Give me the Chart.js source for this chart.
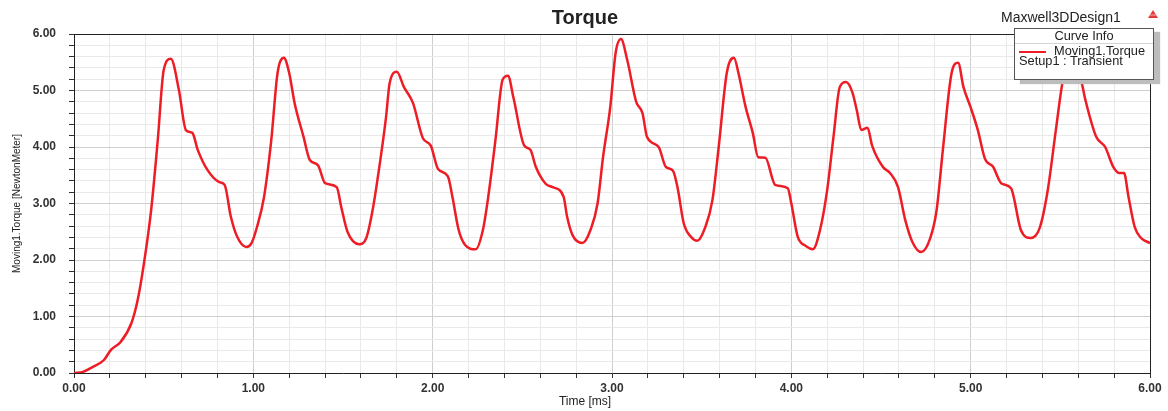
<!DOCTYPE html>
<html>
<head>
<meta charset="utf-8">
<title>Torque</title>
<script src="https://cdn.jsdelivr.net/npm/chart.js@4.4.1/dist/chart.umd.min.js"></script>
<style>
  body { margin: 0; background: #fff; }
  #wrap { position: relative; width: 1168px; height: 411px; font-family: "Liberation Sans", Arial, sans-serif; color: #222; }
  #chart { position: absolute; left: 0; top: 0; }
  .lbl { position: absolute; white-space: nowrap; line-height: 1; }
  #title { left: 585px; top: 7px; transform: translateX(-50%); font-size: 20px; font-weight: bold; }
  #design { left: 1001px; top: 10px; font-size: 14px; }
  #xtitle { left: 585px; top: 395px; transform: translateX(-50%); font-size: 12px; }
  #icon { position: absolute; left: 1147px; top: 9px; }
  #legend { position: absolute; left: 1014px; top: 28px; width: 140px; height: 52px; box-sizing: border-box;
            border: 1px solid #555; background: #fff; box-shadow: 6px 4px 1px #bdbdbd; font-size: 12.8px; }
  #legend .head { position: absolute; left: 0; right: 0; top: 1px; text-align: center; line-height: 1; }
  #legend .sep { position: absolute; left: 0; right: 0; top: 14px; height: 1px; background: #d4d4d4; }
  #legend .swatch { position: absolute; left: 4px; top: 22px; width: 27px; height: 2px; background: #ee1c25; }
</style>
</head>
<body>
<div id="wrap">
  <canvas id="chart" width="1168" height="411"></canvas>
  <div class="lbl" id="title">Torque</div>
  <div class="lbl" id="design">Maxwell3DDesign1</div>
  <svg id="icon" width="12" height="10" viewBox="0 0 12 10">
    <polygon points="6,1 11,9 1,9" fill="#e23a3a"/>
    <line x1="3" y1="6" x2="9" y2="6" stroke="#f4b0b0" stroke-width="1"/>
  </svg>
  <div id="legend">
    <div class="head">Curve Info</div>
    <div class="sep"></div>
    <div class="swatch"></div>
    <div class="lbl" style="left:39px;top:16px;">Moving1.Torque</div>
    <div class="lbl" style="left:4px;top:26px;">Setup1 : Transient</div>
  </div>
  <div class="lbl" id="xtitle">Time [ms]</div>
</div>
<script>
// Time [ms]
const timeMs = [
  0.00, 0.05, 0.10, 0.167, 0.206, 0.26, 0.32, 0.355, 0.39, 0.43, 0.467, 0.50, 0.54, 0.585, 0.624,
  0.66, 0.69, 0.745, 0.81, 0.84, 0.875, 0.91, 0.96, 0.99, 1.02, 1.06, 1.10, 1.135, 1.17, 1.20,
  1.23, 1.28, 1.315, 1.36, 1.40, 1.465, 1.49, 1.525, 1.59, 1.63, 1.665, 1.70, 1.74, 1.76, 1.80,
  1.84, 1.89, 1.945, 1.99, 2.03, 2.085, 2.11, 2.145, 2.18, 2.24, 2.28, 2.31, 2.35, 2.39, 2.42,
  2.45, 2.51, 2.545, 2.575, 2.63, 2.67, 2.73, 2.75, 2.78, 2.835, 2.88, 2.92, 2.95, 2.99, 3.02,
  3.05, 3.085, 3.135, 3.17, 3.195, 3.26, 3.30, 3.34, 3.365, 3.40, 3.44, 3.475, 3.52, 3.56, 3.595,
  3.64, 3.68, 3.705, 3.745, 3.785, 3.815, 3.855, 3.91, 3.98, 4.00, 4.035, 4.08, 4.12, 4.16, 4.20,
  4.235, 4.27, 4.305, 4.34, 4.365, 4.39, 4.425, 4.45, 4.51, 4.55, 4.595, 4.635, 4.675, 4.725, 4.775,
  4.81, 4.845, 4.895, 4.93, 4.96, 5.00, 5.04, 5.08, 5.125, 5.17, 5.225, 5.28, 5.335, 5.385, 5.43,
  5.475, 5.515, 5.56, 5.615, 5.64, 5.70, 5.75, 5.795, 5.83, 5.855, 5.88, 5.915, 5.95, 6.00
];
// Moving1.Torque [NewtonMeter]
const torqueNm = [
  0.00, 0.02, 0.10, 0.23, 0.41, 0.55, 0.88, 1.29, 1.94, 2.88, 4.12, 5.36, 5.56, 5.01, 4.30,
  4.25, 3.95, 3.59, 3.38, 3.33, 2.76, 2.41, 2.23, 2.30, 2.58, 3.12, 4.12, 5.31, 5.58, 5.31,
  4.78, 4.18, 3.77, 3.68, 3.36, 3.29, 2.94, 2.50, 2.28, 2.39, 2.88, 3.59, 4.53, 5.13, 5.33,
  5.06, 4.78, 4.16, 4.02, 3.61, 3.48, 3.12, 2.53, 2.27, 2.19, 2.53, 3.12, 4.12, 5.19, 5.26,
  4.88, 4.03, 3.95, 3.65, 3.35, 3.29, 3.12, 2.76, 2.44, 2.30, 2.53, 3.01, 3.82, 4.70, 5.66,
  5.91, 5.54, 4.80, 4.60, 4.18, 4.00, 3.65, 3.58, 3.29, 2.65, 2.41, 2.34, 2.58, 3.06, 4.00,
  5.31, 5.58, 5.31, 4.71, 4.25, 3.82, 3.81, 3.33, 3.27, 3.00, 2.42, 2.25, 2.19, 2.53, 3.24,
  4.18, 5.06, 5.15, 4.97, 4.65, 4.30, 4.34, 4.03, 3.65, 3.54, 3.29, 2.71, 2.32, 2.14, 2.39,
  2.88, 3.95, 5.33, 5.49, 5.06, 4.70, 4.30, 3.79, 3.65, 3.36, 3.27, 2.53, 2.39, 2.57, 3.24,
  4.30, 5.19, 5.55, 5.19, 4.83, 4.18, 4.00, 3.65, 3.54, 3.54, 3.12, 2.58, 2.39, 2.30
];
// labelled (major) ticks on both axes
const xMajorTicks = [0, 1, 2, 3, 4, 5, 6];
const yMajorTicks = [0, 1, 2, 3, 4, 5, 6];

const isMajor = (v, list) => Math.abs(v - Math.round(v)) < 1e-6 && list.includes(Math.round(v));
const tickFont = { family: 'Liberation Sans', size: 12, weight: 'bold' };

// black frame on top and right of the plot area
const frame = {
  id: 'frame',
  afterDatasetsDraw(chart) {
    const a = chart.chartArea, c = chart.ctx;
    c.save();
    c.strokeStyle = '#222';
    c.lineWidth = 1;
    c.beginPath();
    c.moveTo(a.left, a.top + 0.5);
    c.lineTo(a.right + 0.5, a.top + 0.5);
    c.lineTo(a.right + 0.5, a.bottom);
    c.stroke();
    c.restore();
  }
};

new Chart(document.getElementById('chart'), {
  type: 'line',
  data: {
    datasets: [{
      label: 'Moving1.Torque',
      data: timeMs.map((t, i) => ({ x: t, y: torqueNm[i] })),
      borderColor: '#ee1c25',
      borderWidth: 2.5,
      pointRadius: 0,
      cubicInterpolationMode: 'monotone',
      fill: false
    }]
  },
  options: {
    responsive: false,
    animation: false,
    devicePixelRatio: 1,
    layout: { padding: { top: 34, right: 18, left: 0, bottom: 0 } },
    plugins: { legend: { display: false }, tooltip: { enabled: false } },
    scales: {
      x: {
        type: 'linear',
        min: 0,
        max: 6,
        afterFit: s => { s.height = 38; },
        ticks: {
          stepSize: 0.2,
          autoSkip: false,
          maxRotation: 0,
          padding: 3,
          color: '#333',
          font: tickFont,
          callback: v => isMajor(v, xMajorTicks) ? v.toFixed(2) : ''
        },
        grid: {
          color: ctx => ctx.tick && isMajor(ctx.tick.value, xMajorTicks) ? '#cfcfcf' : '#e9e9e9',
          tickColor: '#333',
          tickLength: 5
        },
        border: { color: '#222', width: 1 }
      },
      y: {
        min: 0,
        max: 6,
        afterFit: s => { s.width = 74; },
        ticks: {
          stepSize: 0.2,
          autoSkip: false,
          padding: 13,
          color: '#333',
          font: tickFont,
          callback: v => isMajor(v, yMajorTicks) ? v.toFixed(2) : ''
        },
        grid: {
          color: ctx => ctx.tick && isMajor(ctx.tick.value, yMajorTicks) ? '#cfcfcf' : '#e9e9e9',
          tickColor: '#333',
          tickLength: 5
        },
        border: { color: '#222', width: 1 },
        title: {
          display: true,
          text: 'Moving1.Torque [NewtonMeter]',
          color: '#222',
          font: { family: 'Liberation Sans', size: 10 },
          padding: { top: 11, bottom: 0 }
        }
      }
    }
  },
  plugins: [frame]
});
</script>
</body>
</html>
